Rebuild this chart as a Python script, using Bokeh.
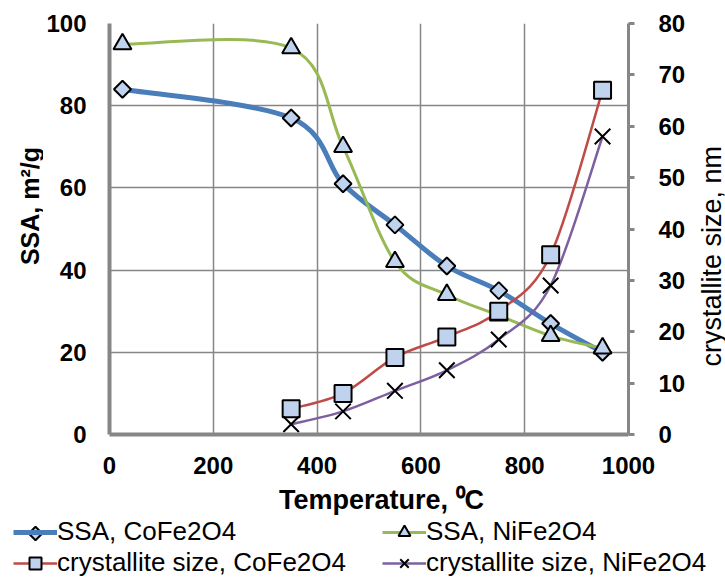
import math
import numpy as np
from bokeh.plotting import figure
from bokeh.layouts import column, row
from bokeh.models import (Range1d, LinearAxis, Legend, LegendItem, FixedTicker,
                          ColumnDataSource, Label)
from bokeh.embed import file_html
from bokeh.resources import INLINE

# ---------------- data ----------------
temp_ssa = [25, 350, 450, 550, 650, 750, 850, 950]
ssa_co = [84, 77, 61, 51, 41, 35, 27, 20]
ssa_ni = [95, 94, 70, 42, 34, 29, 24, 21]

temp_cs = [350, 450, 550, 650, 750, 850, 950]
cs_co = [5, 8, 15, 19, 24, 35, 67]
cs_ni = [2, 4.5, 8.5, 12.5, 18.5, 29, 58]

x_ticks = [0, 200, 400, 600, 800, 1000]
y_ticks = [0, 20, 40, 60, 80, 100]
y2_ticks = [0, 10, 20, 30, 40, 50, 60, 70, 80]

x_title = "Temperature, \u2070C"
y_title = "SSA, m\u00b2/g"
y2_title = "crystallite size, nm"
label_ssa_co = "SSA, CoFe2O4"
label_ssa_ni = "SSA, NiFe2O4"
label_cs_co = "crystallite size, CoFe2O4"
label_cs_ni = "crystallite size, NiFe2O4"

# ---------------- styles / layout ----------------
FONT = "Liberation Sans"
GRID = "#868686"
MFILL = "#bfd3ee"
C_BLUE = "#4a7ebb"
C_GREEN = "#98b954"
C_RED = "#be4b48"
C_PURPLE = "#7d60a0"

TOTAL_W, TOTAL_H = 725, 578
LT_W = 43
FRAME_L, FRAME_T, FRAME_W, FRAME_H = 64, 23, 521, 411
BORDER_R, BORDER_B = 60, 50
MAIN_W = FRAME_L + FRAME_W + BORDER_R
MAIN_H = FRAME_T + FRAME_H + BORDER_B
RT_W = TOTAL_W - LT_W - MAIN_W
LG_H = TOTAL_H - MAIN_H


def smooth_source(xs, ys, t=1.0 / 6.0):
    """Bezier control points (smoothed line through the data points)."""
    x = np.asarray(xs, float)
    y = np.asarray(ys, float)
    xp = np.concatenate([[x[0]], x, [x[-1]]])
    yp = np.concatenate([[y[0]], y, [y[-1]]])
    tx = (xp[2:] - xp[:-2]) * t
    ty = (yp[2:] - yp[:-2]) * t
    return ColumnDataSource(dict(
        x0=x[:-1], y0=y[:-1], x1=x[1:], y1=y[1:],
        cx0=x[:-1] + tx[:-1], cy0=y[:-1] + ty[:-1],
        cx1=x[1:] - tx[1:], cy1=y[1:] - ty[1:],
    ))


def pixel_fig(w, h):
    fig = figure(width=w, height=h, x_range=Range1d(0, w), y_range=Range1d(0, h),
                 output_backend="svg", toolbar_location=None, min_border=0)
    fig.axis.visible = False
    fig.grid.visible = False
    fig.outline_line_color = None
    return fig


# ---------------- main plot ----------------
p = figure(width=MAIN_W, height=MAIN_H,
           x_range=Range1d(0, 1000), y_range=Range1d(0, 100),
           output_backend="svg", toolbar_location=None,
           min_border_left=FRAME_L, min_border_right=BORDER_R,
           min_border_top=FRAME_T, min_border_bottom=BORDER_B)
p.extra_y_ranges = {"cs": Range1d(0, 80)}
p.outline_line_color = None

p.xgrid.ticker = FixedTicker(ticks=x_ticks)
p.ygrid.ticker = FixedTicker(ticks=y_ticks)
for g in (p.xgrid, p.ygrid):
    g.grid_line_color = GRID
    g.grid_line_width = 1.5

xa = p.xaxis[0]
xa.ticker = FixedTicker(ticks=x_ticks)
ya = p.yaxis[0]
ya.ticker = FixedTicker(ticks=y_ticks)
ya2 = LinearAxis(y_range_name="cs", ticker=FixedTicker(ticks=y2_ticks))
p.add_layout(ya2, "right")

for ax in (xa, ya, ya2):
    ax.axis_line_color = GRID
    ax.axis_line_width = 4
    ax.major_tick_in = 0
    ax.major_tick_out = 0
    ax.minor_tick_line_color = None
    ax.major_tick_line_color = GRID
    ax.major_tick_line_width = 3
    ax.major_label_text_font = FONT
    ax.major_label_text_font_style = "bold"
    ax.major_label_text_font_size = "24px"
    ax.major_label_text_color = "black"

xa.major_label_standoff = 22
ya.major_label_standoff = 23
ya2.axis_line_width = 3
ya2.major_tick_out = 6
ya2.major_label_standoff = 24

bz = dict(x0="x0", y0="y0", x1="x1", y1="y1", cx0="cx0", cy0="cy0", cx1="cx1", cy1="cy1")
p.bezier(source=smooth_source(temp_ssa, ssa_co), line_color=C_BLUE, line_width=5, **bz)
p.bezier(source=smooth_source(temp_ssa, ssa_ni), line_color=C_GREEN, line_width=3, **bz)
p.bezier(source=smooth_source(temp_cs, cs_co), line_color=C_RED, line_width=2.5,
         y_range_name="cs", **bz)
p.bezier(source=smooth_source(temp_cs, cs_ni), line_color=C_PURPLE, line_width=2.5,
         y_range_name="cs", **bz)

mk_co = dict(marker="square", angle=math.pi / 4, size=12, fill_color=MFILL,
             line_color="black", line_width=2)
mk_ni = dict(marker="triangle", size=18, fill_color=MFILL, line_color="black", line_width=2)
mk_cs_co = dict(marker="square", size=17, fill_color=MFILL, line_color="black", line_width=2)
mk_cs_ni = dict(marker="x", size=22, line_color="black", line_width=2)
p.scatter(temp_ssa, ssa_co, **mk_co)
p.scatter(temp_ssa, ssa_ni, **mk_ni)
p.scatter(temp_cs, cs_co, y_range_name="cs", **mk_cs_co)
p.scatter(temp_cs, cs_ni, y_range_name="cs", **mk_cs_ni)

# ---------------- left / right axis titles (read bottom to top) ----------------
lt = pixel_fig(LT_W, MAIN_H)
lt.add_layout(Label(x=29, y=MAIN_H - 215, text=y_title, angle=math.pi / 2,
                    text_align="center", text_baseline="middle", text_font=FONT,
                    text_font_size="25px", text_font_style="bold", text_color="black"))

rt = pixel_fig(RT_W, MAIN_H)
rt.add_layout(Label(x=711 - LT_W - MAIN_W, y=MAIN_H - 274, text=y2_title, angle=math.pi / 2,
                    text_align="center", text_baseline="middle", text_font=FONT,
                    text_font_size="27px", text_color="black"))

# ---------------- bottom strip: x title + legend ----------------
lg = pixel_fig(TOTAL_W, LG_H)
lg.add_layout(Label(x=381, y=TOTAL_H - 499, text=x_title, text_align="center",
                    text_baseline="middle", text_font=FONT, text_font_size="27px",
                    text_font_style="bold", text_color="black"))

off = ([-50, -40], [-50, -40])
l1 = lg.line(*off, line_color=C_BLUE, line_width=5)
l2 = lg.line(*off, line_color=C_GREEN, line_width=3)
l3 = lg.line(*off, line_color=C_RED, line_width=2.5)
l4 = lg.line(*off, line_color=C_PURPLE, line_width=2.5)
k2 = lg.scatter([-50], [-50], **mk_ni)
k3 = lg.scatter([-50], [-50], **mk_cs_co)
k4 = lg.scatter([-50], [-50], **mk_cs_ni)

ROW_H = 30
GLYPH_W = 44
COL1_X, COL2_X = 13, 382


def make_legend(items, loc):
    leg = Legend(items=items, location=loc, orientation="vertical")
    leg.padding = 0
    leg.margin = 0
    leg.spacing = 0
    leg.border_line_color = None
    leg.background_fill_alpha = 0
    leg.glyph_width = GLYPH_W
    leg.glyph_height = ROW_H
    leg.label_height = ROW_H
    leg.label_standoff = 0
    leg.label_text_font = FONT
    leg.label_text_font_size = "26px"
    leg.label_text_color = "black"
    leg.label_text_baseline = "middle"
    return leg


lg.add_layout(make_legend([LegendItem(label=label_ssa_co, renderers=[l1]),
                           LegendItem(label=label_cs_co, renderers=[l3, k3])], (COL1_X, 0)))
lg.add_layout(make_legend([LegendItem(label=label_ssa_ni, renderers=[l2, k2]),
                           LegendItem(label=label_cs_ni, renderers=[l4, k4])], (COL2_X, 0)))
# diamond key of the first legend entry (legend keys do not rotate markers)
lg.scatter([COL1_X + GLYPH_W / 2], [ROW_H * 1.5], marker="square", angle=math.pi / 4,
           size=9.5, fill_color=MFILL, line_color="black", line_width=2, level="overlay")

layout = column(row(lt, p, rt), lg)
open("out.html", "w").write(file_html(layout, INLINE))
